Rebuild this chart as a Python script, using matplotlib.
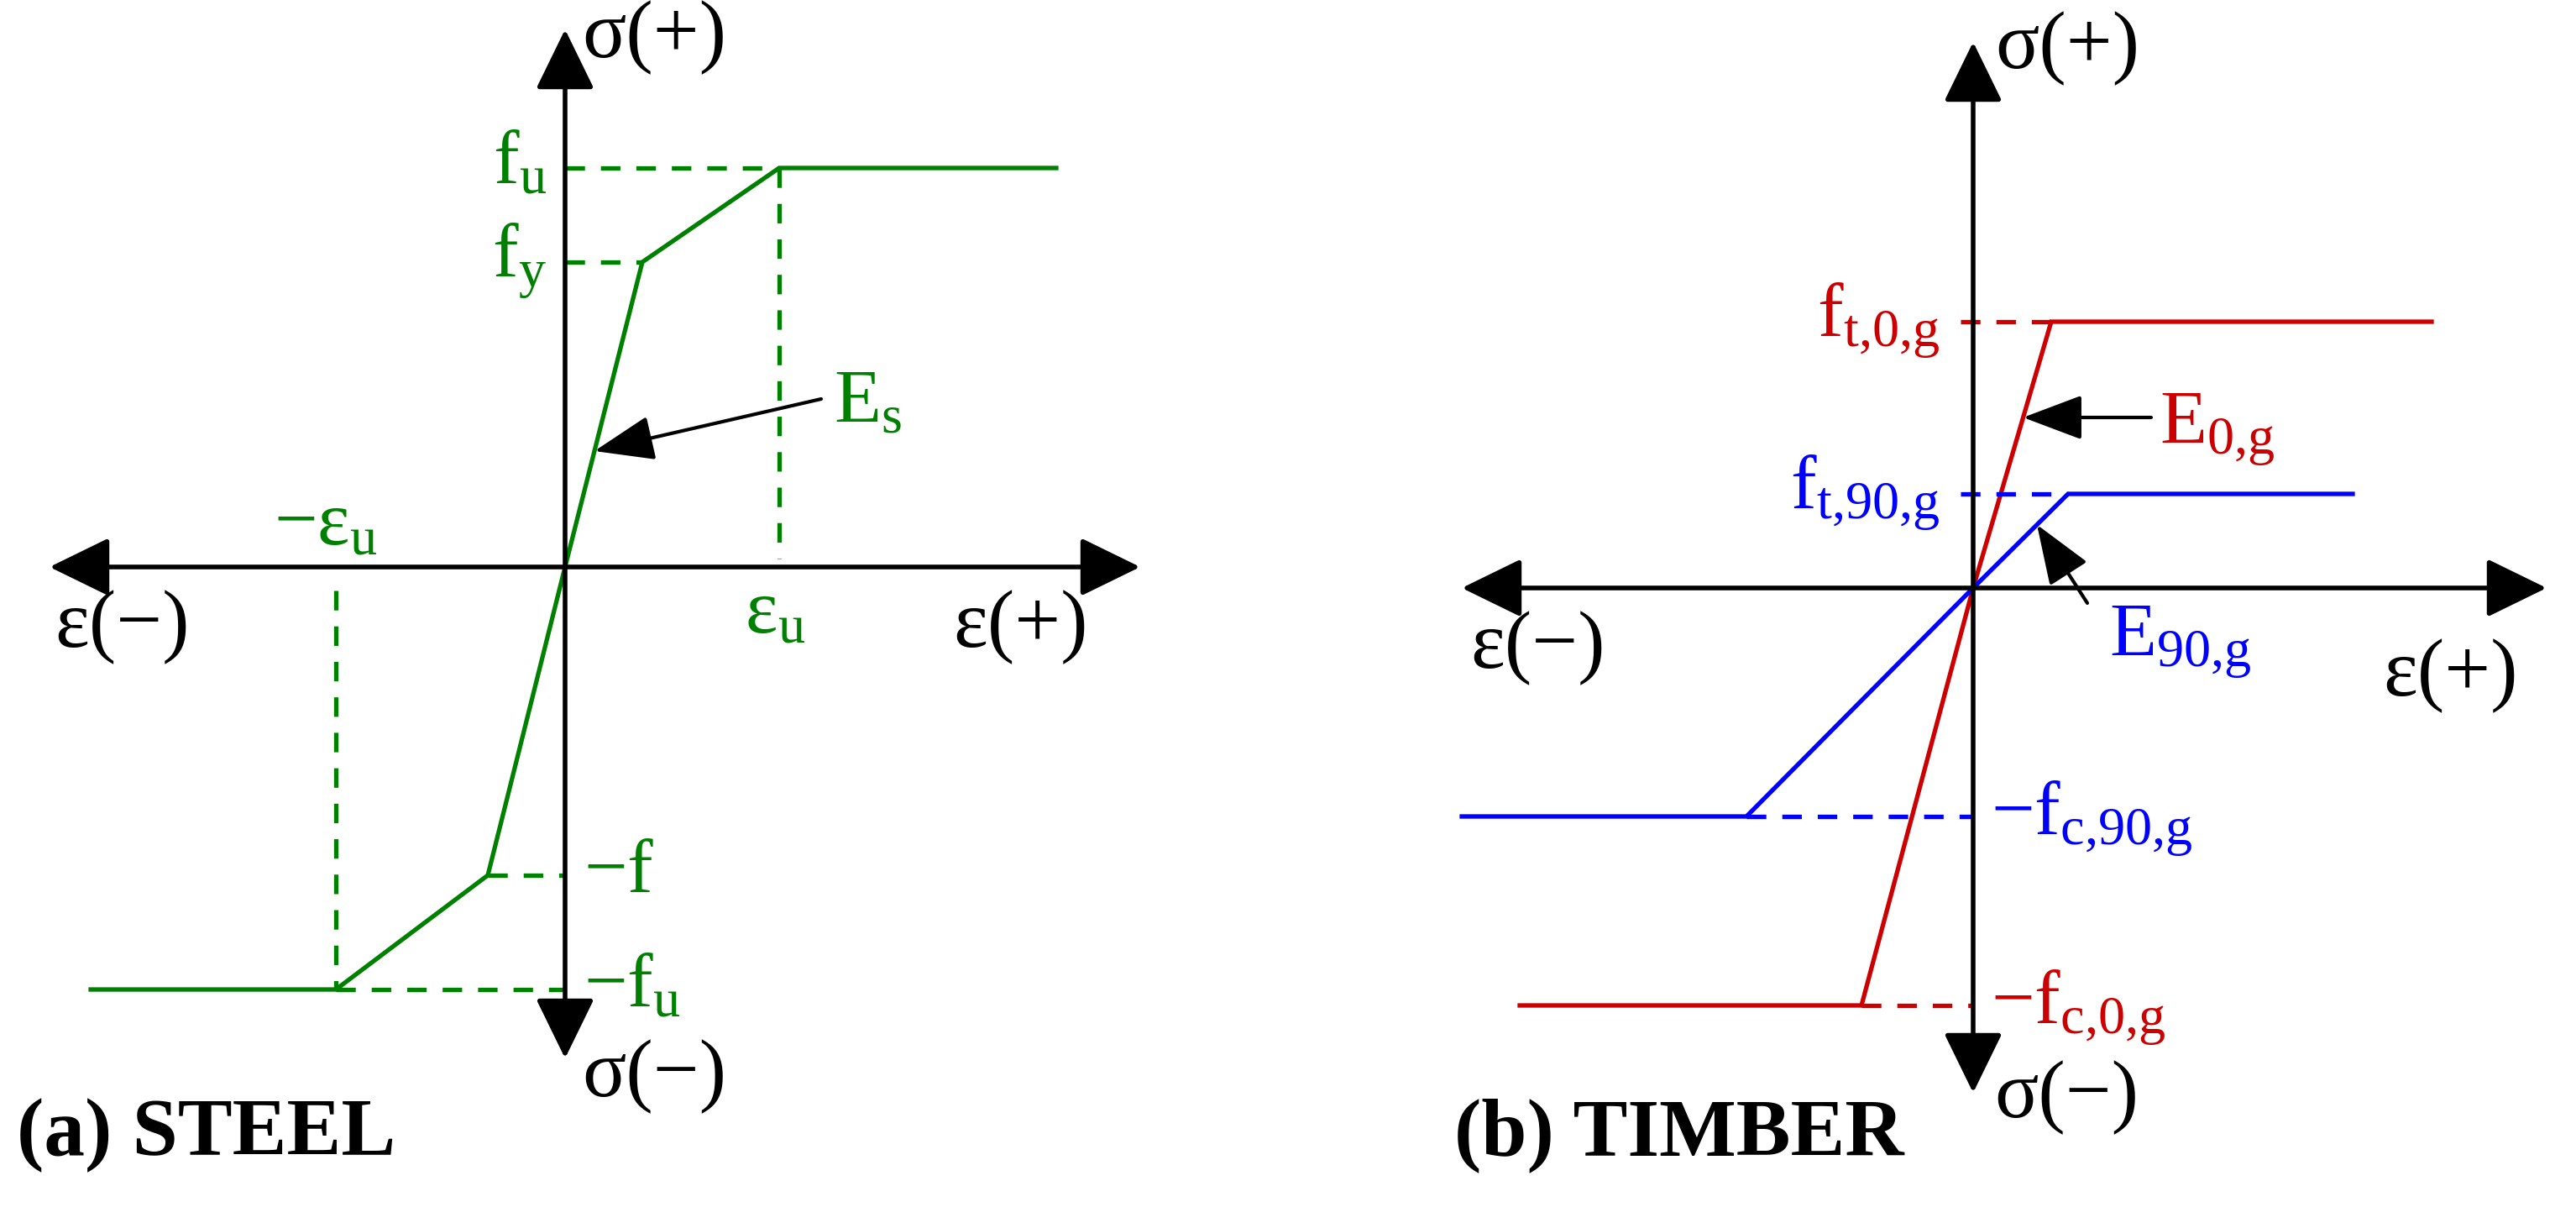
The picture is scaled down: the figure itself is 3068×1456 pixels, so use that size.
import matplotlib
matplotlib.use('Agg')
import matplotlib.pyplot as plt

plt.rcParams['font.family'] = ['Liberation Serif', 'DejaVu Serif']
plt.rcParams['mathtext.fontset'] = 'custom'
plt.rcParams['mathtext.rm'] = 'Liberation Serif'
plt.rcParams['mathtext.it'] = 'Liberation Serif:italic'
plt.rcParams['mathtext.bf'] = 'Liberation Serif:bold'

GREEN = '#008000'
RED = '#cc0000'
BLUE = '#0000ff'

# schematic units, 1 unit = 100 px of the final image
# steel: bilinear curve, symmetric-ish in tension / compression
steel_eps = [-5.65, -2.73, -0.92, 0.0, 0.92, 2.55, 5.85]
steel_sig = [-5.03, -5.03, -3.67, 0.0, 3.63, 4.75, 4.75]

# timber, parallel (0) and perpendicular (90) to grain
t0_eps = [-5.40, -1.33, 0.0, 0.93, 5.46]
t0_sig = [-4.97, -4.97, 0.0, 3.17, 3.17]
t90_eps = [-6.09, -2.70, 0.0, 1.13, 4.52]
t90_sig = [-2.72, -2.72, 0.0, 1.12, 1.12]

# axis extents (arrow tips): x_min, x_max, y_min, y_max
steel_axes = [-6.14, 6.85, -5.85, 6.40]
timber_axes = [-6.09, 6.83, -6.01, 6.50]

LW = 3.8
AX_LW = 4.0
DASH = (0, (4.4, 3.6))
FS = 66
FS_AX = 70

fig = plt.figure(figsize=(30.68, 14.56), dpi=100)
ax1 = fig.add_axes([0, 0, 0.5, 1])
ax2 = fig.add_axes([0.5, 0, 0.5, 1])
ax1.set_xlim(-6.73, 8.61)
ax1.set_ylim(-7.81, 6.75)
ax2.set_xlim(-8.16, 7.18)
ax2.set_ylim(-7.56, 7.00)
for ax in (ax1, ax2):
    ax.axis('off')


def draw_axes(ax, ext):
    head = '<|-|>,head_length=0.86,head_width=0.42'
    ax.annotate('', xy=(ext[1], 0), xytext=(ext[0], 0),
                arrowprops=dict(arrowstyle=head, mutation_scale=52, lw=AX_LW,
                                color='black', shrinkA=0, shrinkB=0))
    ax.annotate('', xy=(0, ext[3]), xytext=(0, ext[2]),
                arrowprops=dict(arrowstyle=head, mutation_scale=52, lw=AX_LW,
                                color='black', shrinkA=0, shrinkB=0))


def pointer(ax, tip, tail):
    ax.annotate('', xy=tip, xytext=tail,
                arrowprops=dict(arrowstyle='-|>,head_length=0.85,head_width=0.32',
                                mutation_scale=52, lw=3.0, color='black',
                                shrinkA=0, shrinkB=0))


# ---------------- (a) steel ----------------
draw_axes(ax1, steel_axes)
ax1.plot(steel_eps, steel_sig, color=GREEN, lw=LW, solid_joinstyle='miter')
# guide lines to the axes
ax1.plot([0, steel_eps[5]], [steel_sig[5]] * 2, color=GREEN, lw=LW, ls=DASH)
ax1.plot([0, steel_eps[4]], [steel_sig[4]] * 2, color=GREEN, lw=LW, ls=DASH)
ax1.plot([steel_eps[2], 0], [steel_sig[2]] * 2, color=GREEN, lw=LW, ls=DASH)
ax1.plot([steel_eps[1], 0], [steel_sig[1]] * 2, color=GREEN, lw=LW, ls=DASH)
ax1.plot([steel_eps[5]] * 2, [steel_sig[5], 0.1], color=GREEN, lw=LW, ls=DASH)
ax1.plot([steel_eps[1]] * 2, [-0.28, steel_sig[1]], color=GREEN, lw=LW, ls=DASH)

ax1.text(0.20, 6.30, 'σ(+)', fontsize=FS_AX, ha='left', va='center')
ax1.text(0.20, -6.07, 'σ(−)', fontsize=FS_AX, ha='left', va='center')
ax1.text(-6.08, -0.72, 'ε(−)', fontsize=FS_AX, ha='left', va='center')
ax1.text(4.62, -0.72, 'ε(+)', fontsize=FS_AX, ha='left', va='center')
ax1.text(-0.22, steel_sig[5] - 0.18, r'$\mathrm{f}_\mathrm{u}$', fontsize=FS,
         color=GREEN, ha='right', va='baseline')
ax1.text(-0.22, steel_sig[4] - 0.18, r'$\mathrm{f}_\mathrm{y}$', fontsize=FS,
         color=GREEN, ha='right', va='baseline')
ax1.text(0.22, steel_sig[2] - 0.2, r'$\mathrm{-f}$', fontsize=FS,
         color=GREEN, ha='left', va='baseline')
ax1.text(0.22, steel_sig[1] - 0.2, r'$\mathrm{-f}_\mathrm{u}$', fontsize=FS,
         color=GREEN, ha='left', va='baseline')
ax1.text(steel_eps[1] - 0.12, 0.27, r'$\mathrm{-ε}_\mathrm{u}$', fontsize=FS,
         color=GREEN, ha='center', va='baseline')
ax1.text(steel_eps[5] - 0.05, -0.78, r'$\mathrm{ε}_\mathrm{u}$', fontsize=FS,
         color=GREEN, ha='center', va='baseline')
ax1.text(3.20, 1.72, r'$\mathrm{E}_\mathrm{s}$', fontsize=FS,
         color=GREEN, ha='left', va='baseline')
es_y = 1.38
pointer(ax1, (es_y * steel_eps[4] / steel_sig[4], es_y), (3.05, 2.00))
ax1.text(-6.53, -7.00, '(a) STEEL', fontsize=70, fontweight='bold',
         ha='left', va='baseline')

# ---------------- (b) timber ----------------
draw_axes(ax2, timber_axes)
ax2.plot(t0_eps, t0_sig, color=RED, lw=LW, solid_joinstyle='miter')
ax2.plot(t90_eps, t90_sig, color=BLUE, lw=LW, solid_joinstyle='miter')
ax2.plot([-0.15, t0_eps[3]], [t0_sig[3]] * 2, color=RED, lw=LW, ls=DASH)
ax2.plot([-0.15, t90_eps[3]], [t90_sig[3]] * 2, color=BLUE, lw=LW, ls=DASH)
ax2.plot([t90_eps[1], 0], [t90_sig[1]] * 2, color=BLUE, lw=LW, ls=DASH)
ax2.plot([t0_eps[1], 0], [t0_sig[1]] * 2, color=RED, lw=LW, ls=DASH)

ax2.text(0.26, 6.42, 'σ(+)', fontsize=FS_AX, ha='left', va='center')
ax2.text(0.25, -6.07, 'σ(−)', fontsize=FS_AX, ha='left', va='center')
ax2.text(-5.99, -0.72, 'ε(−)', fontsize=FS_AX, ha='left', va='center')
ax2.text(4.88, -1.05, 'ε(+)', fontsize=FS_AX, ha='left', va='center')
ax2.text(-0.40, t0_sig[3] - 0.18, r'$\mathrm{f}_\mathrm{t{,}0{,}g}$', fontsize=FS,
         color=RED, ha='right', va='baseline')
ax2.text(-0.40, t90_sig[3] - 0.18, r'$\mathrm{f}_\mathrm{t{,}90{,}g}$', fontsize=FS,
         color=BLUE, ha='right', va='baseline')
ax2.text(0.21, t90_sig[1] - 0.22, r'$\mathrm{-f}_\mathrm{c{,}90{,}g}$', fontsize=FS,
         color=BLUE, ha='left', va='baseline')
ax2.text(0.21, t0_sig[1] - 0.22, r'$\mathrm{-f}_\mathrm{c{,}0{,}g}$', fontsize=FS,
         color=RED, ha='left', va='baseline')
ax2.text(2.22, 1.71, r'$\mathrm{E}_\mathrm{0{,}g}$', fontsize=FS,
         color=RED, ha='left', va='baseline')
ax2.text(1.62, -0.82, r'$\mathrm{E}_\mathrm{90{,}g}$', fontsize=FS,
         color=BLUE, ha='left', va='baseline')
e0_y = 2.03
pointer(ax2, (e0_y * t0_eps[3] / t0_sig[3], e0_y), (2.12, e0_y))
e90_x = 0.76
pointer(ax2, (e90_x, e90_x * t90_sig[3] / t90_eps[3]), (1.36, -0.18))
ax2.text(-6.18, -6.75, '(b) TIMBER', fontsize=70, fontweight='bold',
         ha='left', va='baseline')

fig.savefig('out.png', dpi=100)
